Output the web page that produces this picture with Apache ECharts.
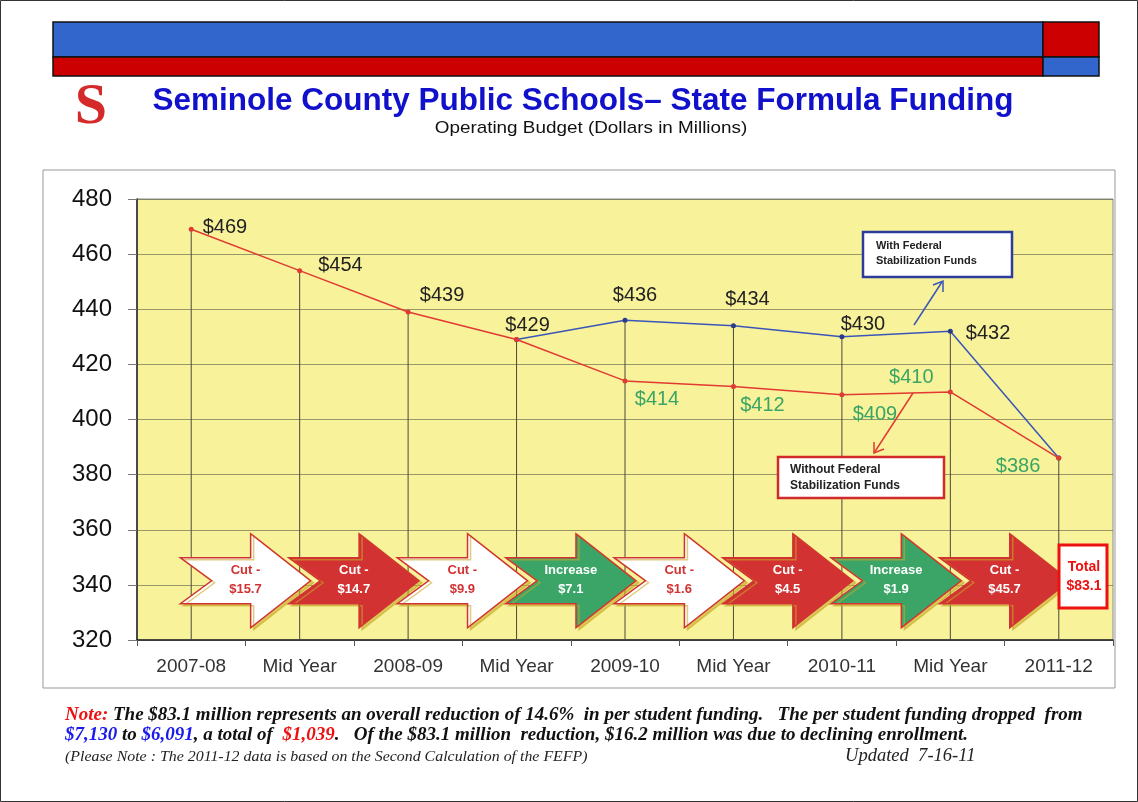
<!DOCTYPE html>
<html>
<head>
<meta charset="utf-8">
<script src="https://cdn.jsdelivr.net/npm/echarts@6/dist/echarts.min.js"></script>
<style>
  html, body { margin: 0; padding: 0; background: #fff; }
  #main { width: 1138px; height: 802px; }
</style>
</head>
<body>
<div id="main"></div>
<script>
// categories and values (dollars in millions)
var periods = ['2007-08', 'Mid Year', '2008-09', 'Mid Year', '2009-10', 'Mid Year', '2010-11', 'Mid Year', '2011-12'];
var withoutFederal = [469, 454, 439, 429, 414, 412, 409, 410, 386];
var withFederal = [null, null, null, 429, 436, 434, 430, 432, 386];
var changeTitles = ['Cut -', 'Cut -', 'Cut -', 'Increase', 'Cut -', 'Cut -', 'Increase', 'Cut -'];
var changeAmounts = ['$15.7', '$14.7', '$9.9', '$7.1', '$1.6', '$4.5', '$1.9', '$45.7'];
var changeKinds = ['small', 'cut', 'small', 'up', 'small', 'cut', 'up', 'cut'];
var totalCut = '$83.1';
var yTicks = [320, 340, 360, 380, 400, 420, 440, 460, 480];

var FONT = 'Liberation Sans, Arial, sans-serif';
var SERIF = 'Liberation Serif, Times New Roman, serif';
var RED = '#e23a32', BLUE = '#3a56b8', GREEN = '#3aa566';

// label placement of every point (position, distance, offset, colour)
var redLabelCfg = [
  ['right', 9, [0, -2], '#222'],
  ['right', 16, [0, -5], '#222'],
  ['top', 5, [34, 1], '#222'],
  ['top', 5, [11, 3], '#222'],
  ['bottom', 5, [32, 1], GREEN],
  ['bottom', 5, [29, 2], GREEN],
  ['bottom', 5, [33, 2], GREEN],
  ['top', 5, [-39, 3], GREEN],
  ['left', 16, [0, 8], GREEN]
];
var blueLabelCfg = [
  null, null, null, null,
  ['top', 5, [10, -7], '#222'],
  ['top', 5, [14, -9], '#222'],
  ['top', 5, [21, 5], '#222'],
  ['right', 13, [0, 2], '#222'],
  null
];

function labelled(values, cfg) {
  return values.map(function (v, i) {
    if (v == null) return null;
    var c = cfg[i];
    if (!c) return { value: v, label: { show: false } };
    return {
      value: v,
      label: {
        show: true, position: c[0], distance: c[1], offset: c[2], color: c[3],
        fontFamily: FONT, fontSize: 20, formatter: '${c}'
      }
    };
  });
}

var dropHeights = withoutFederal.map(function (v, i) {
  return withFederal[i] != null ? Math.max(v, withFederal[i]) : v;
});

var arrowLevel = 341.5;

function renderArrow(params, api) {
  var i = api.value(0);
  var a = api.coord([i, arrowLevel]);
  var b = api.coord([i + 1, arrowLevel]);
  var cx = (a[0] + b[0]) / 2, cy = a[1];
  var band = b[0] - a[0];
  var W = band * 1.2, bh = 23, hh = 47;
  var left = cx - W / 2, tip = cx + W / 2, neck = left + W * 0.54, notch = left + W * 0.24;
  var kind = changeKinds[i];
  var fill = kind === 'small' ? '#ffffff' : (kind === 'up' ? GREEN : '#d23232');
  var txt = kind === 'small' ? '#d23232' : '#ffffff';
  return {
    type: 'group',
    children: [{
      type: 'polygon',
      shape: { points: [[left, cy - bh], [neck, cy - bh], [neck, cy - hh], [tip, cy], [neck, cy + hh], [neck, cy + bh], [left, cy + bh], [notch, cy]] },
      style: { fill: fill, stroke: '#d23232', lineWidth: 1.5, shadowColor: 'rgba(200,170,40,0.6)', shadowOffsetX: 3, shadowOffsetY: 2, shadowBlur: 0 }
    }, {
      type: 'text',
      style: {
        x: cx, y: cy - 1, text: changeTitles[i] + '\n' + changeAmounts[i],
        fill: txt, font: 'bold 13px ' + FONT, align: 'center', verticalAlign: 'middle', lineHeight: 19
      }
    }]
  };
}

var chart = echarts.init(document.getElementById('main'));
chart.setOption({
  animation: false,
  grid: { left: 137, right: 25, top: 199, bottom: 162, show: true, backgroundColor: '#f8f29b', borderColor: '#888', borderWidth: 1 },
  xAxis: {
    type: 'category',
    data: periods,
    axisLine: { lineStyle: { color: '#222', width: 1.5 } },
    axisTick: { show: true, length: 6, lineStyle: { color: '#555' } },
    axisLabel: { color: '#333', fontFamily: FONT, fontSize: 19, margin: 17 },
    splitLine: { show: false }
  },
  yAxis: {
    type: 'value', min: yTicks[0], max: yTicks[yTicks.length - 1], interval: 20,
    axisLine: { show: true, lineStyle: { color: '#222', width: 1.5 } },
    axisTick: { show: true, length: 9, lineStyle: { color: '#777' } },
    axisLabel: { color: '#111', fontFamily: FONT, fontSize: 24, margin: 25 },
    splitLine: { lineStyle: { color: 'rgba(90,90,70,0.6)', width: 1 } }
  },
  series: [{
    type: 'bar', data: dropHeights, barWidth: 1, silent: true, z: 1,
    itemStyle: { color: '#4a4a3a' }
  }, {
    name: 'Without Federal Stabilization Funds', type: 'line', z: 3,
    data: labelled(withoutFederal, redLabelCfg),
    symbol: 'circle', symbolSize: 5,
    lineStyle: { color: RED, width: 1.5 }, itemStyle: { color: RED }
  }, {
    name: 'With Federal Stabilization Funds', type: 'line', z: 2,
    data: labelled(withFederal, blueLabelCfg),
    symbol: 'circle', symbolSize: 5,
    lineStyle: { color: BLUE, width: 1.5 }, itemStyle: { color: '#2a3a8a' }
  }, {
    type: 'custom', z: 5, silent: true,
    data: changeTitles.map(function (t, i) { return [i, arrowLevel]; }),
    renderItem: renderArrow
  }],
  graphic: [
    // page frame
    { type: 'rect', shape: { x: 0.5, y: 0.5, width: 1137, height: 801 }, style: { fill: 'none', stroke: '#333', lineWidth: 1 }, z: -20 },
    // header bars
    { type: 'rect', shape: { x: 53, y: 22, width: 990, height: 35 }, style: { fill: '#3366cc', stroke: '#111', lineWidth: 1.5 }, z: -10 },
    { type: 'rect', shape: { x: 1043, y: 22, width: 56, height: 35 }, style: { fill: '#cc0000', stroke: '#111', lineWidth: 1.5 }, z: -10 },
    { type: 'rect', shape: { x: 53, y: 57, width: 990, height: 19 }, style: { fill: '#cc0000', stroke: '#111', lineWidth: 1.5 }, z: -10 },
    { type: 'rect', shape: { x: 1043, y: 57, width: 56, height: 19 }, style: { fill: '#3366cc', stroke: '#111', lineWidth: 1.5 }, z: -10 },
    // logo
    { type: 'text', x: 91, y: 108, style: { text: 'S', fill: '#d42a2a', font: 'bold 58px ' + SERIF, align: 'center', verticalAlign: 'middle' } },
    // title
    { type: 'text', x: 583, y: 101, style: { text: 'Seminole County Public Schools\u2013 State Formula Funding', fill: '#1111cc', font: 'bold 31.5px ' + FONT, align: 'center', verticalAlign: 'middle' } },
    { type: 'text', x: 591, y: 128, scaleX: 1.11, style: { text: 'Operating Budget (Dollars in Millions)', fill: '#111', font: '17px ' + FONT, align: 'center', verticalAlign: 'middle' } },
    // chart panel
    { type: 'rect', shape: { x: 43, y: 170, width: 1072, height: 518 }, style: { fill: '#fff', stroke: '#999', lineWidth: 1 }, z: -30 },
    // annotation: with federal
    { type: 'rect', z: 20, shape: { x: 863, y: 232, width: 149, height: 45 }, style: { fill: '#fff', stroke: '#2c3c9c', lineWidth: 2.5 } },
    { type: 'text', z: 21, left: 876, top: 238, style: { text: 'With Federal\nStabilization Funds', fill: '#222', font: 'bold 11px ' + FONT, lineHeight: 15 } },
    { type: 'line', z: 20, shape: { x1: 914, y1: 325, x2: 942, y2: 282 }, style: { stroke: BLUE, lineWidth: 1.5 } },
    { type: 'polyline', z: 20, shape: { points: [[933, 285], [943, 281], [943, 292]] }, style: { stroke: BLUE, lineWidth: 1.5, fill: 'none' } },
    // annotation: without federal
    { type: 'rect', z: 20, shape: { x: 778, y: 457, width: 166, height: 41 }, style: { fill: '#fff', stroke: '#d22a2a', lineWidth: 2.5 } },
    { type: 'text', z: 21, left: 790, top: 462, style: { text: 'Without Federal\nStabilization Funds', fill: '#222', font: 'bold 12px ' + FONT, lineHeight: 16 } },
    { type: 'line', z: 20, shape: { x1: 913, y1: 393, x2: 874, y2: 453 }, style: { stroke: RED, lineWidth: 1.5 } },
    { type: 'polyline', z: 20, shape: { points: [[874, 442], [874, 453], [884, 449]] }, style: { stroke: RED, lineWidth: 1.5, fill: 'none' } },
    // total box
    { type: 'rect', z: 20, shape: { x: 1059, y: 545, width: 48, height: 63 }, style: { fill: '#fff', stroke: '#ee1111', lineWidth: 3 } },
    { type: 'text', z: 21, x: 1084, y: 577, style: { text: 'Total\n' + totalCut, fill: '#ee1111', font: 'bold 14px ' + FONT, align: 'center', verticalAlign: 'middle', lineHeight: 19 } },
    // notes
    { type: 'text', x: 65, y: 715, style: {
      text: '{r|Note:} The $83.1 million represents an overall reduction of 14.6%  in per student funding.   The per student funding dropped  from',
      fill: '#111', font: 'bold italic 19px ' + SERIF, verticalAlign: 'middle',
      rich: { r: { fill: '#ee1111', font: 'bold italic 19px ' + SERIF } }
    } },
    { type: 'text', x: 65, y: 735, style: {
      text: '{b|$7,130} to {b|$6,091}, a total of  {r|$1,039}.   Of the $83.1 million  reduction, $16.2 million was due to declining enrollment.',
      fill: '#111', font: 'bold italic 19px ' + SERIF, verticalAlign: 'middle',
      rich: { b: { fill: '#1a1aee', font: 'bold italic 19px ' + SERIF }, r: { fill: '#ee1111', font: 'bold italic 19px ' + SERIF } }
    } },
    { type: 'text', x: 65, y: 757, scaleX: 1.06, style: { text: '(Please Note : The 2011-12 data is based on the Second Calculation of the FEFP)', fill: '#222', font: 'italic 15px ' + SERIF, verticalAlign: 'middle' } },
    { type: 'text', x: 845, y: 756, scaleX: 1.03, style: { text: 'Updated  7-16-11', fill: '#222', font: 'italic 18px ' + SERIF, verticalAlign: 'middle' } }
  ]
});
</script>
</body>
</html>
